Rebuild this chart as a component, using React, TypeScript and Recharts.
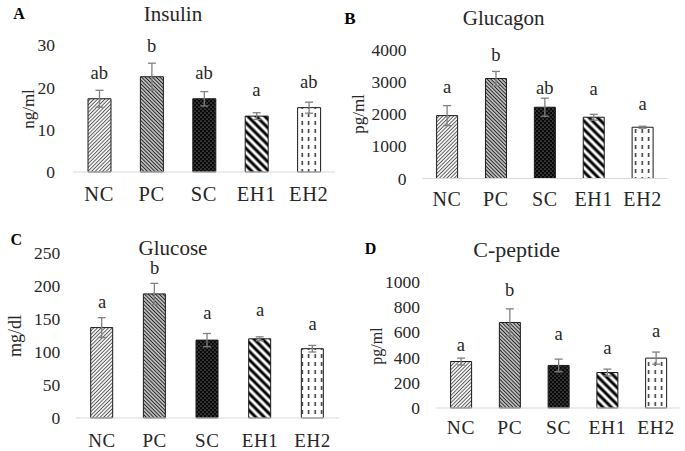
import React from 'react';
import { ComposedChart, Bar, Line, XAxis, YAxis, Cell, ErrorBar, LabelList } from 'recharts';

// groups shared by all four panels
const groups = ['NC', 'PC', 'SC', 'EH1', 'EH2'];

// A - insulin (ng/ml)
const insulinMean = [17.3, 22.5, 17.3, 13.2, 15.2];
const insulinSe = [2.0, 3.2, 1.7, 0.8, 1.3];
const insulinLetters = ['ab', 'b', 'ab', 'a', 'ab'];
const insulinLetterAt = [22.0, 28.4, 22.0, 18.0, 19.8];
const insulinTicks = [0, 10, 20, 30];

// B - glucagon (pg/ml)
const glucagonMean = [1950, 3100, 2210, 1900, 1590];
const glucagonSe = [310, 220, 280, 90, 30];
const glucagonLetters = ['a', 'b', 'ab', 'a', 'a'];
const glucagonLetterAt = [2640, 3640, 2610, 2590, 2120];
const glucagonTicks = [0, 1000, 2000, 3000, 4000];

// C - glucose (mg/dl)
const glucoseMean = [137, 188, 118, 120, 105];
const glucoseSe = [15, 16, 10, 3, 5];
const glucoseLetters = ['a', 'b', 'a', 'a', 'a'];
const glucoseLetterAt = [166, 218, 150, 155, 134];
const glucoseTicks = [0, 50, 100, 150, 200, 250];

// D - C-peptide (pg/ml)
const cpepMean = [368, 677, 337, 281, 395];
const cpepSe = [27, 108, 50, 27, 48];
const cpepLetters = ['a', 'b', 'a', 'a', 'a'];
const cpepLetterAt = [450, 887, 537, 431, 561];
const cpepTicks = [0, 200, 400, 600, 800, 1000];

const FONT = '"Liberation Serif", "Times New Roman", serif';
const TEXT = '#262626';
const fills = ['nc', 'pc', 'sc', 'eh1', 'eh2'];

function buildRows(mean: number[], se: number[], letters: string[], letterAt: number[]) {
  return groups.map((g, i) => ({
    group: g,
    mean: mean[i],
    se: se[i],
    letter: letters[i],
    letterAt: letterAt[i],
  }));
}

function Patterns({ id }: { id: string }) {
  return (
    <defs>
      <pattern id={`${id}-nc`} width="2.6" height="2.6" patternUnits="userSpaceOnUse" patternTransform="rotate(45)">
        <rect width="2.6" height="2.6" fill="#fff" />
        <line x1="1.3" y1="0" x2="1.3" y2="2.6" stroke="#555" strokeWidth="1" />
      </pattern>
      <pattern id={`${id}-pc`} width="2.6" height="2.6" patternUnits="userSpaceOnUse" patternTransform="rotate(-45)">
        <rect width="2.6" height="2.6" fill="#fff" />
        <line x1="1.3" y1="0" x2="1.3" y2="2.6" stroke="#222" strokeWidth="1.4" />
      </pattern>
      <pattern id={`${id}-sc`} width="4" height="4" patternUnits="userSpaceOnUse">
        <rect width="4" height="4" fill="#0a0a0a" />
        <circle cx="1" cy="1" r="0.55" fill="#bbb" />
        <circle cx="3" cy="3" r="0.55" fill="#bbb" />
      </pattern>
      <pattern id={`${id}-eh1`} width="6" height="6" patternUnits="userSpaceOnUse" patternTransform="rotate(-45)">
        <rect width="6" height="6" fill="#fff" />
        <line x1="3" y1="0" x2="3" y2="6" stroke="#000" strokeWidth="3" />
      </pattern>
      <pattern id={`${id}-eh2`} width="6.5" height="8" patternUnits="userSpaceOnUse">
        <rect width="6.5" height="8" fill="#fff" />
        <rect x="2.5" y="1" width="1.4" height="4" fill="#222" />
      </pattern>
    </defs>
  );
}

type PanelProps = {
  id: string;
  rows: ReturnType<typeof buildRows>;
  ticks: number[];
  left: number;
  top: number;
  width: number;
  height: number;
  margin: { top: number; right: number; bottom: number; left: number };
  barSize: number;
  catFont: number;
  catGap: number;
  tickGap: number;
};

function Panel(p: PanelProps) {
  const max = p.ticks[p.ticks.length - 1];
  return (
    <div style={{ position: 'absolute', left: p.left, top: p.top }}>
      <ComposedChart width={p.width} height={p.height} data={p.rows} margin={p.margin}>
        <Patterns id={p.id} />
        <XAxis
          dataKey="group"
          interval={0}
          height={30}
          axisLine={{ stroke: '#d9d9d9', strokeWidth: 1 }}
          tickLine={false}
          tickSize={0}
          tickMargin={p.catGap}
          tick={{ fill: TEXT, fontSize: p.catFont, fontFamily: FONT, letterSpacing: 0.6 }}
        />
        <YAxis
          width={45}
          domain={[0, max]}
          ticks={p.ticks}
          interval={0}
          axisLine={false}
          tickLine={false}
          tickSize={0}
          tickMargin={p.tickGap}
          tick={{ fill: TEXT, fontSize: 17.5, fontFamily: FONT }}
        />
        <Bar dataKey="mean" barSize={p.barSize} stroke="#1a1a1a" strokeWidth={1} isAnimationActive={false}>
          {p.rows.map((r, i) => (
            <Cell key={r.group} fill={`url(#${p.id}-${fills[i]})`} />
          ))}
          <ErrorBar dataKey="se" width={4} stroke="#808080" strokeWidth={1.3} />
        </Bar>
        <Line
          dataKey="letterAt"
          stroke="none"
          dot={false}
          activeDot={false}
          legendType="none"
          isAnimationActive={false}
        >
          <LabelList
            dataKey="letter"
            content={(lp: any) => (
              <text x={lp.x} y={lp.y} textAnchor="middle" fontSize={18.5} fontFamily={FONT} fill={TEXT}>
                {lp.value}
              </text>
            )}
          />
        </Line>
      </ComposedChart>
    </div>
  );
}

function Txt({ x, y, size, children, bold, rotate }: any) {
  return (
    <div
      style={{
        position: 'absolute',
        left: x,
        top: y,
        transform: `translate(-50%, -50%)${rotate ? ' rotate(-90deg)' : ''}`,
        fontFamily: FONT,
        fontSize: size,
        fontWeight: bold ? 'bold' : 'normal',
        lineHeight: 1,
        whiteSpace: 'nowrap',
        color: bold ? '#000' : TEXT,
      }}
    >
      {children}
    </div>
  );
}

export default function App() {
  return (
    <div style={{ position: 'fixed', left: 0, top: 0, width: 685, height: 451, background: '#fff', overflow: 'hidden' }}>
      <Panel
        id="a"
        rows={buildRows(insulinMean, insulinSe, insulinLetters, insulinLetterAt)}
        ticks={insulinTicks}
        left={0}
        top={0}
        width={340}
        height={225}
        margin={{ top: 45, right: 5, bottom: 23, left: 28 }}
        barSize={23}
        catFont={20.5}
        catGap={14}
        tickGap={18}
      />
      <Panel
        id="b"
        rows={buildRows(glucagonMean, glucagonSe, glucagonLetters, glucagonLetterAt)}
        ticks={glucagonTicks}
        left={340}
        top={0}
        width={345}
        height={225}
        margin={{ top: 49.5, right: 18, bottom: 16.5, left: 37.6 }}
        barSize={21}
        catFont={20}
        catGap={13}
        tickGap={16}
      />
      <Panel
        id="c"
        rows={buildRows(glucoseMean, glucoseSe, glucoseLetters, glucoseLetterAt)}
        ticks={glucoseTicks}
        left={0}
        top={225}
        width={345}
        height={226}
        margin={{ top: 28, right: 6, bottom: 3, left: 30.7 }}
        barSize={22}
        catFont={19}
        catGap={15.5}
        tickGap={15.5}
      />
      <Panel
        id="d"
        rows={buildRows(cpepMean, cpepSe, cpepLetters, cpepLetterAt)}
        ticks={cpepTicks}
        left={340}
        top={225}
        width={345}
        height={226}
        margin={{ top: 56.7, right: 4.6, bottom: 13, left: 51.6 }}
        barSize={21}
        catFont={19.5}
        catGap={12}
        tickGap={16.5}
      />

      <Txt x={19} y={14.3} size={16} bold>A</Txt>
      <Txt x={173} y={13.7} size={21}>Insulin</Txt>
      <Txt x={28.3} y={109} size={17} rotate>ng/ml</Txt>

      <Txt x={350} y={17.5} size={17} bold>B</Txt>
      <Txt x={503.7} y={17.8} size={21}>Glucagon</Txt>
      <Txt x={358.3} y={114} size={17} rotate>pg/ml</Txt>

      <Txt x={16.2} y={240.3} size={16} bold>C</Txt>
      <Txt x={173} y={248} size={21}>Glucose</Txt>
      <Txt x={15.3} y={335.8} size={18} rotate>mg/dl</Txt>

      <Txt x={370.5} y={249.3} size={16} bold>D</Txt>
      <Txt x={516.7} y={249.5} size={22}>C-peptide</Txt>
      <Txt x={377.2} y={345.8} size={16} rotate>pg/ml</Txt>
    </div>
  );
}
